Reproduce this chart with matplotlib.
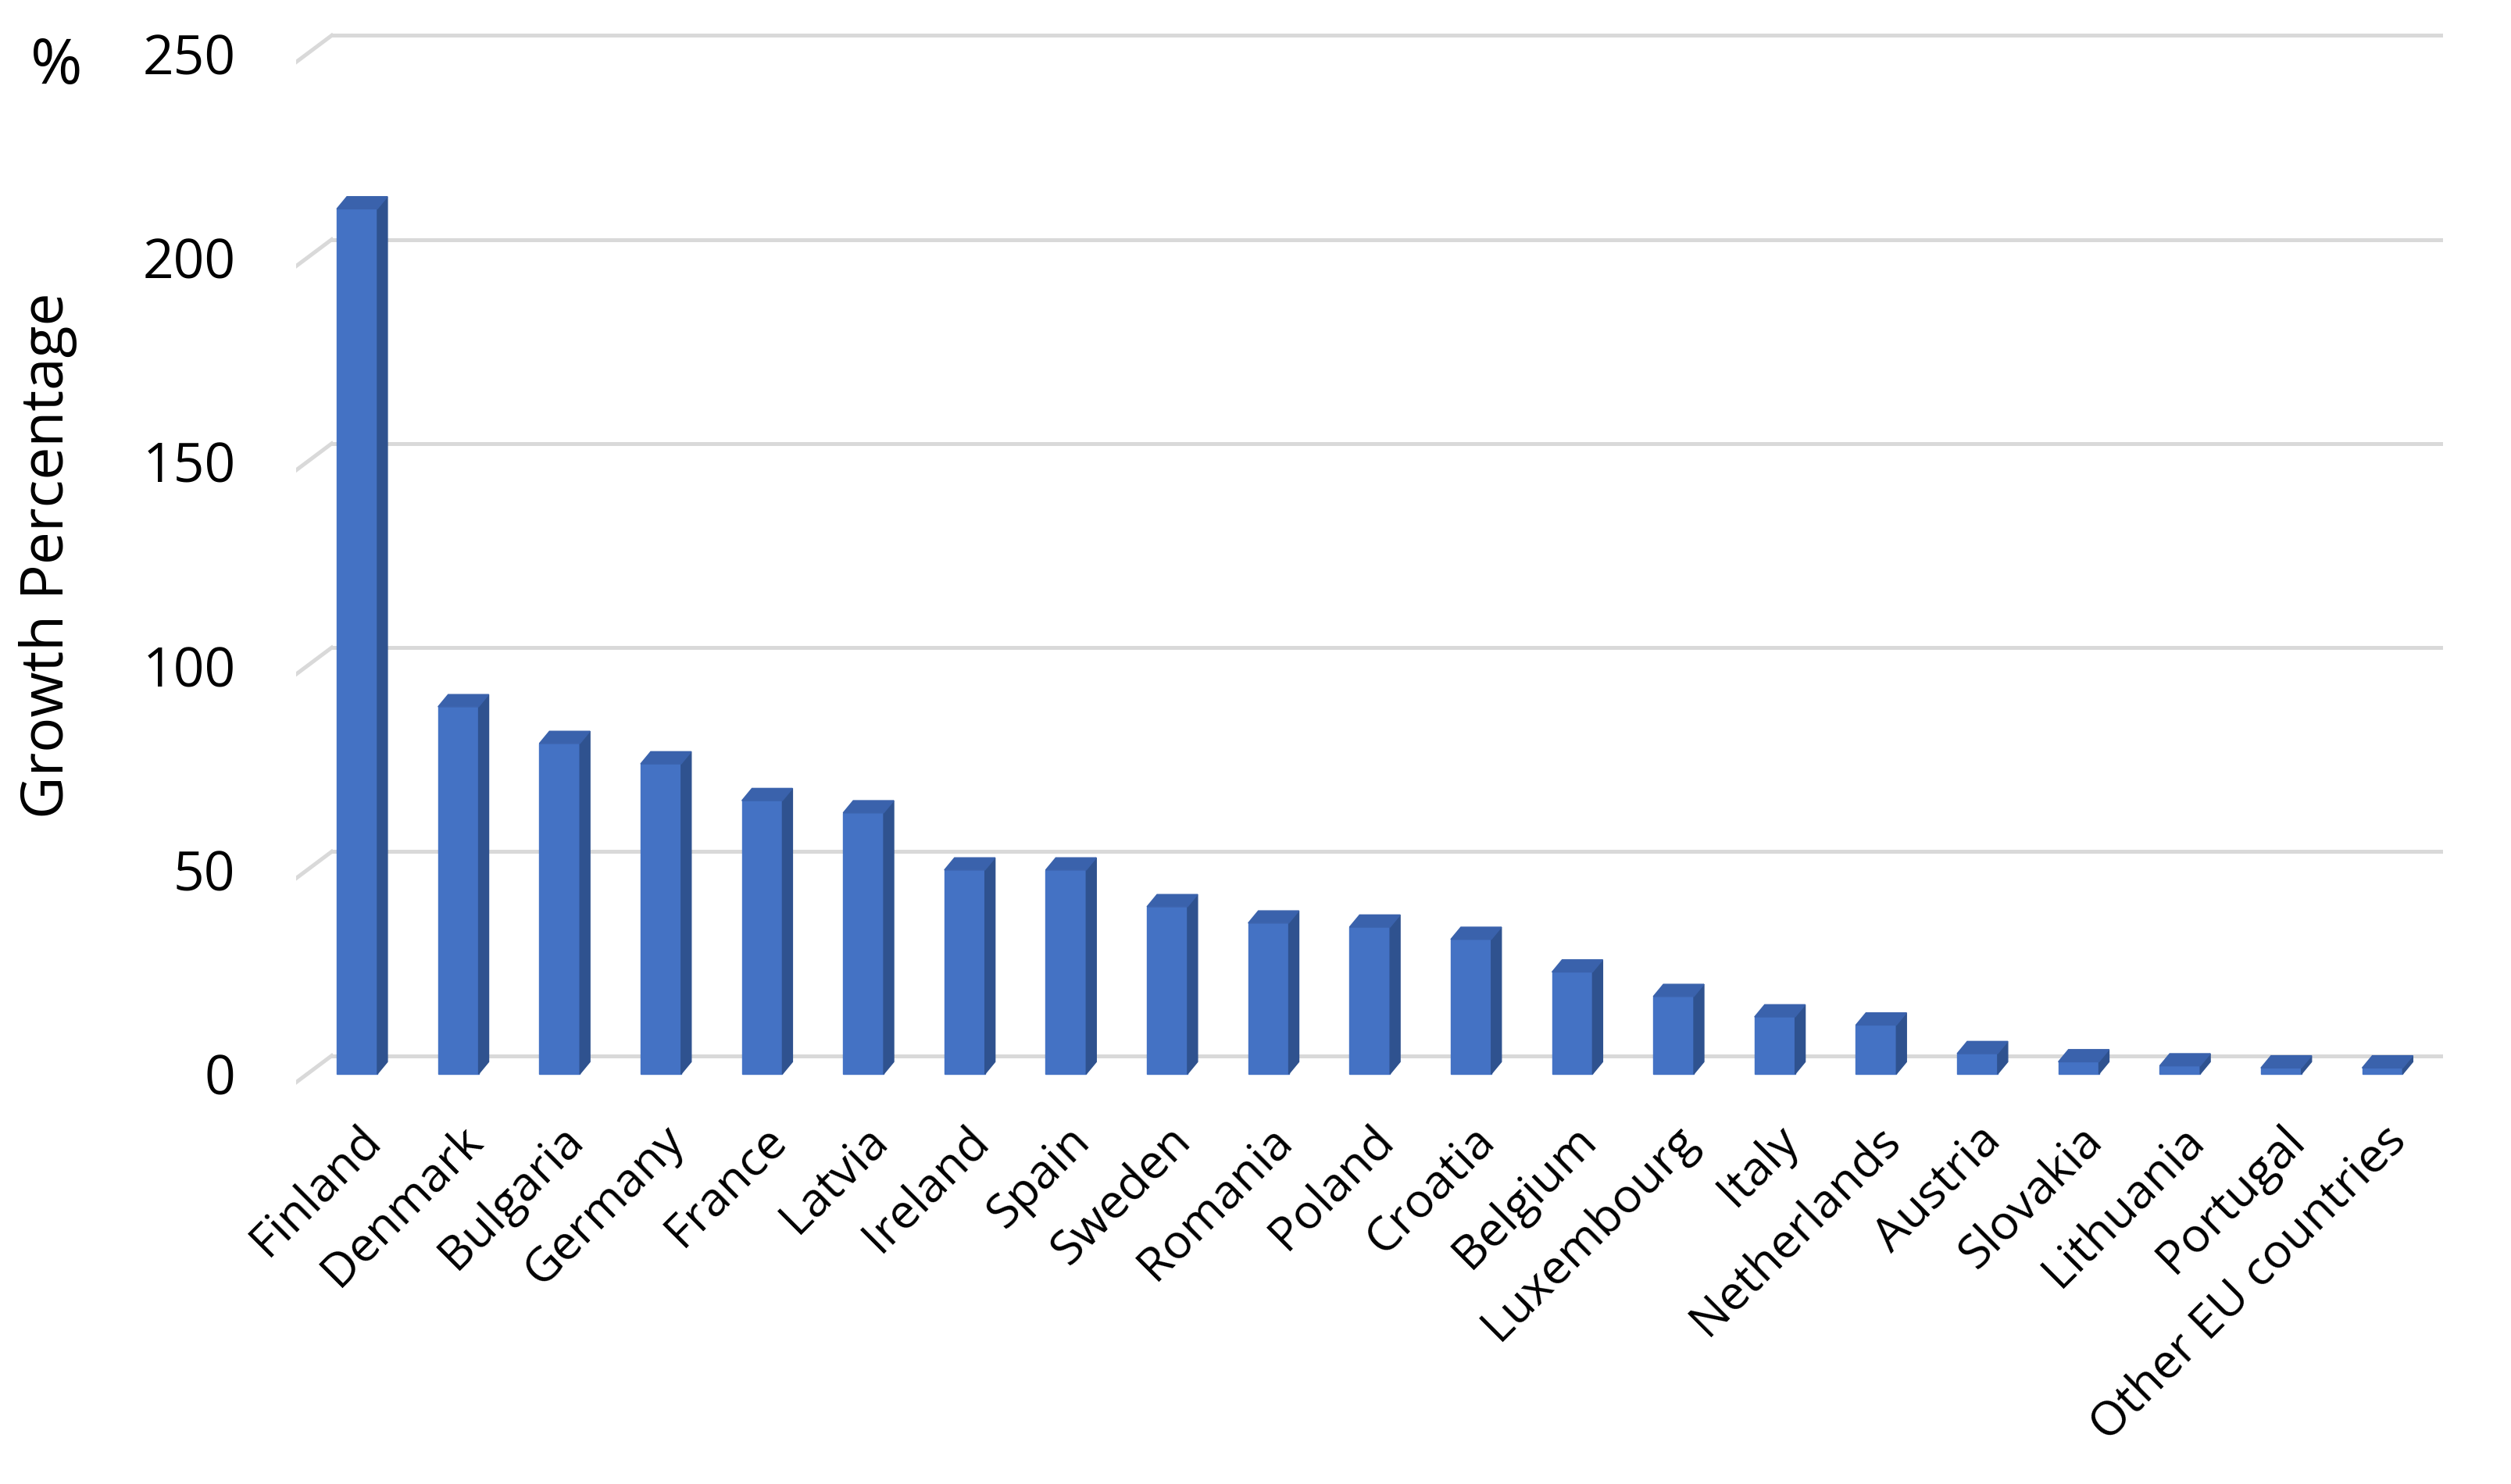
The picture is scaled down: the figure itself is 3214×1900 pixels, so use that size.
import matplotlib
matplotlib.use("Agg")
import matplotlib.pyplot as plt
from matplotlib.patches import Polygon

countries = ["Finland","Denmark","Bulgaria","Germany","France","Latvia","Ireland","Spain",
             "Sweden","Romania","Poland","Croatia","Belgium","Luxembourg","Italy",
             "Netherlands","Austria","Slovakia","Lithuania","Portugal","Other EU countries"]
values = [212, 90, 81, 76, 67, 64, 50, 50, 41, 37, 36, 33, 25, 19, 14, 12, 5, 3, 2, 1.5, 1.5]
yticks = [0, 50, 100, 150, 200, 250]

plt.rcParams['font.family'] = ['Open Sans', 'DejaVu Sans']
fig = plt.figure(figsize=(16.07, 9.5), dpi=200)
ax = fig.add_axes([0.118, 0.268, 0.855, 0.715])

front = "#4472C4"
side = "#2F528F"
top = "#3A62AC"
w = 0.4
dx = 0.1
dy = 3.0
ax.set_xlim(-0.6, len(values) - 0.4)
ax.set_ylim(-3, 257)
for t in yticks:
    ax.plot([-0.6 + 0.35, len(values) - 0.4], [t + 4.5, t + 4.5], color="#D9D9D9", lw=1.8, zorder=0)
    ax.plot([-0.6, -0.6 + 0.35], [t - 2, t + 4.5], color="#D9D9D9", lw=1.8, zorder=0)
for i, v in enumerate(values):
    x0, x1 = i - w / 2, i + w / 2
    ax.add_patch(Polygon([(x0, 0), (x1, 0), (x1, v), (x0, v)], closed=True, fc=front, ec=front, lw=0.5, zorder=3))
    ax.add_patch(Polygon([(x1, 0), (x1 + dx, dy), (x1 + dx, v + dy), (x1, v)], closed=True, fc=side, ec=side, lw=0.5, zorder=3))
    ax.add_patch(Polygon([(x0, v), (x1, v), (x1 + dx, v + dy), (x0 + dx, v + dy)], closed=True, fc=top, ec=top, lw=0.5, zorder=3))

ax.set_yticks(yticks)
ax.set_yticklabels([str(t) for t in yticks], fontsize=25)
ax.set_xticks(range(len(countries)))
ax.set_xticklabels(countries, rotation=45, ha="right", rotation_mode="anchor", fontsize=22)
ax.tick_params(axis='y', length=0, pad=28)
ax.tick_params(axis='x', length=0, pad=14)
for s in ax.spines.values():
    s.set_visible(False)
ax.set_ylabel("Growth Percentage", fontsize=27, labelpad=30)
fig.text(0.012, 0.955, "%", fontsize=29, ha="left", va="center")
fig.savefig("out.png")
